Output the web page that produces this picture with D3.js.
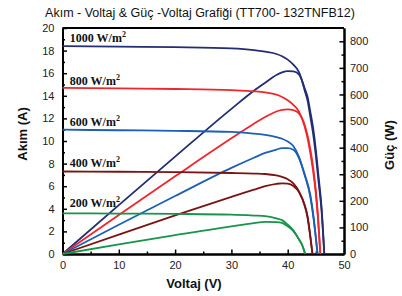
<!DOCTYPE html>
<html>
<head>
<meta charset="utf-8">
<script src="https://cdn.jsdelivr.net/npm/d3@7"></script>
<style>
  body { margin: 0; background: #fff; }
  .axis path, .axis line { stroke: #000; }
  .axis path { stroke-width: 2; }
  .axis line { stroke-width: 1.5; }
  .axis text { font-family: "Liberation Sans", Arial, sans-serif; font-size: 11px; fill: #222; }
</style>
</head>
<body>
<div id="chart"></div>
<script>
// irradiance levels (label, colour order)
var levels = ["1000", "800", "600", "400", "200"];

// voltage points, current (A) and power (W)
var v1000 = [0, 10, 20, 30, 34, 36, 38, 39, 40, 41, 42, 42.5, 43, 43.6, 44, 44.5, 45, 45.5, 46, 46.5];
var i1000 = [18.4, 18.35, 18.3, 18.2, 18.05, 17.9, 17.7, 17.5, 17.2, 16.75, 16.1, 15.4, 14.5, 13.4, 12.2, 10.7, 8.7, 6.3, 3.9, 0];
var p1000 = [0, 184, 366, 546, 614, 644, 673, 683, 688, 687, 676, 655, 624, 584, 537, 476, 392, 287, 179, 0];

var v800 = [0, 10, 20, 30, 34, 36, 38, 39, 40, 41, 42, 43, 43.5, 44, 44.5, 45, 45.4, 45.8];
var i800 = [14.7, 14.65, 14.6, 14.5, 14.4, 14.3, 14.1, 13.9, 13.6, 13.2, 12.6, 11.3, 10.3, 9.0, 7.4, 5.3, 3.0, 0];
var p800 = [0, 147, 292, 435, 490, 515, 536, 542, 544, 541, 529, 486, 448, 396, 329, 239, 136, 0];

var v600 = [0, 10, 20, 30, 34, 36, 38, 39, 40, 41, 42, 43, 44, 44.6, 45.3];
var i600 = [11.0, 10.95, 10.9, 10.8, 10.65, 10.55, 10.35, 10.2, 9.95, 9.55, 8.6, 7.0, 5.1, 3.1, 0];
var p600 = [0, 110, 218, 324, 362, 380, 393, 398, 398, 392, 361, 301, 224, 138, 0];

var v400 = [0, 10, 20, 30, 34, 36, 38, 39, 40, 41, 42, 43, 43.5, 44, 44.4];
var i400 = [7.3, 7.28, 7.25, 7.17, 7.12, 7.08, 6.95, 6.82, 6.62, 6.25, 5.55, 4.3, 3.3, 1.6, 0];
var p400 = [0, 73, 145, 215, 242, 255, 264, 266, 265, 256, 233, 185, 144, 70, 0];

var v200 = [0, 10, 20, 30, 34, 36, 38, 39, 40, 41, 42, 42.6, 43.1];
var i200 = [3.6, 3.58, 3.55, 3.48, 3.4, 3.35, 3.15, 3.0, 2.6, 2.1, 1.3, 0.75, 0];
var p200 = [0, 36, 71, 104, 116, 121, 120, 117, 104, 86, 55, 32, 0];

var xTicks = [0, 10, 20, 30, 40, 50];
var yTicks = [0, 2, 4, 6, 8, 10, 12, 14, 16, 18, 20];
var pTicks = [0, 100, 200, 300, 400, 500, 600, 700, 800];

var series = [
  {name: "1000", v: v1000, i: i1000, p: p1000, color: "#232d72"},
  {name: "800",  v: v800,  i: i800,  p: p800,  color: "#f0262b"},
  {name: "600",  v: v600,  i: i600,  p: p600,  color: "#1d5fb6"},
  {name: "400",  v: v400,  i: i400,  p: p400,  color: "#7a1414"},
  {name: "200",  v: v200,  i: i200,  p: p200,  color: "#15944a"}
];
// label anchor current (A) for each level text
var labelAt = [18.8, 14.95, 11.3, 7.7, 4.15];

var W = 402, H = 296;
var margin = {top: 28, right: 58, bottom: 42, left: 62.5};
var width = W - margin.left - margin.right,
    height = H - margin.top - margin.bottom;

var svg = d3.select("#chart").append("svg")
    .attr("width", W)
    .attr("height", H);

var g = svg.append("g")
    .attr("transform", "translate(" + margin.left + "," + margin.top + ")");

var x = d3.scaleLinear().domain([0, 50]).range([0, width]);
var y = d3.scaleLinear().domain([0, 20]).range([height, 0]);
var yP = d3.scaleLinear().domain([0, 850]).range([height, 0]);

// minor ticks
g.append("g").attr("class", "axis")
    .call(d3.axisLeft(y).tickValues(d3.range(1, 20, 2)).tickSize(-2.5).tickSizeOuter(0).tickFormat(""));
g.append("g").attr("class", "axis")
    .attr("transform", "translate(" + width + ",0)")
    .call(d3.axisRight(yP).tickValues(d3.range(50, 850, 100)).tickSize(-2.5).tickSizeOuter(0).tickFormat(""));
g.append("g").attr("class", "axis")
    .attr("transform", "translate(0," + height + ")")
    .call(d3.axisBottom(x).tickValues([5, 15, 25, 35, 45]).tickSize(-2.5).tickSizeOuter(0).tickFormat(""));

// major axes
g.append("g").attr("class", "axis")
    .call(d3.axisLeft(y).tickValues(yTicks).tickSize(-4.5).tickSizeOuter(0).tickPadding(8));
g.append("g").attr("class", "axis")
    .attr("transform", "translate(" + width + ",0)")
    .call(d3.axisRight(yP).tickValues(pTicks).tickSize(-4.5).tickSizeOuter(0).tickPadding(6));
g.append("g").attr("class", "axis")
    .attr("transform", "translate(0," + height + ")")
    .call(d3.axisBottom(x).tickValues(xTicks).tickSize(-4.5).tickSizeOuter(0).tickPadding(7));

// top frame
g.append("line")
    .attr("x1", 0).attr("x2", width)
    .attr("y1", 0).attr("y2", 0)
    .attr("stroke", "#000").attr("stroke-width", 2);

var lineI = d3.line()
    .x(function(d) { return x(d[0]); })
    .y(function(d) { return y(d[1]); })
    .curve(d3.curveMonotoneX);
var lineP = d3.line()
    .x(function(d) { return x(d[0]); })
    .y(function(d) { return yP(d[1]); })
    .curve(d3.curveMonotoneX);

series.forEach(function(s, k) {
    g.append("path")
        .datum(d3.zip(s.v, s.i))
        .attr("fill", "none")
        .attr("stroke", s.color)
        .attr("stroke-width", 1.8)
        .attr("d", lineI);
    g.append("path")
        .datum(d3.zip(s.v, s.p))
        .attr("fill", "none")
        .attr("stroke", s.color)
        .attr("stroke-width", 1.8)
        .attr("d", lineP);

    var t = g.append("text")
        .attr("x", x(1.3))
        .attr("y", y(labelAt[k]))
        .attr("font-family", "Liberation Serif, Times New Roman, serif")
        .attr("font-weight", "bold")
        .attr("font-size", 12)
        .attr("fill", "#111");
    t.append("tspan").text(levels[k] + " W/m");
    t.append("tspan").attr("dy", -5).attr("font-size", 8).text("2");
});

// titles
svg.append("text")
    .attr("x", 200)
    .attr("y", 17)
    .attr("text-anchor", "middle")
    .attr("font-family", "Liberation Sans, Arial, sans-serif")
    .attr("font-size", 12.5)
    .attr("fill", "#111")
    .text("Akım - Voltaj & Güç -Voltaj Grafiği (TT700- 132TNFB12)");

svg.append("text")
    .attr("x", 194)
    .attr("y", 288)
    .attr("text-anchor", "middle")
    .attr("font-family", "Liberation Sans, Arial, sans-serif")
    .attr("font-weight", "bold")
    .attr("font-size", 13)
    .attr("fill", "#111")
    .text("Voltaj (V)");

svg.append("text")
    .attr("transform", "translate(27,134) rotate(-90)")
    .attr("text-anchor", "middle")
    .attr("font-family", "Liberation Sans, Arial, sans-serif")
    .attr("font-weight", "bold")
    .attr("font-size", 13)
    .attr("fill", "#111")
    .text("Akım (A)");

svg.append("text")
    .attr("transform", "translate(394,145) rotate(-90)")
    .attr("text-anchor", "middle")
    .attr("font-family", "Liberation Sans, Arial, sans-serif")
    .attr("font-weight", "bold")
    .attr("font-size", 13)
    .attr("fill", "#111")
    .text("Güç (W)");
</script>
</body>
</html>
